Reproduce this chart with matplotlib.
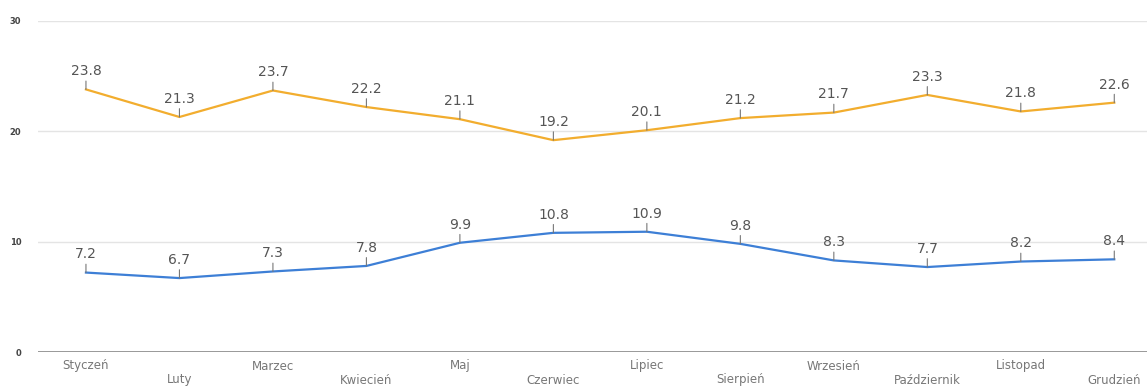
import matplotlib.pyplot as plt

months = ["Styczeń", "Luty", "Marzec", "Kwiecień", "Maj", "Czerwiec",
          "Lipiec", "Sierpień", "Wrzesień", "Październik", "Listopad", "Grudzień"]
high = [23.8, 21.3, 23.7, 22.2, 21.1, 19.2, 20.1, 21.2, 21.7, 23.3, 21.8, 22.6]
low = [7.2, 6.7, 7.3, 7.8, 9.9, 10.8, 10.9, 9.8, 8.3, 7.7, 8.2, 8.4]
y_ticks = [0, 10, 20, 30]


def main():
    fig = plt.figure(figsize=(11.47, 3.89), dpi=100)
    ax = fig.add_axes([38 / 1147, 37 / 389, 1 - 38 / 1147, 331 / 389])
    x = list(range(len(months)))

    for t in y_ticks[1:]:
        ax.axhline(t, color="#e4e4e4", lw=1, zorder=0)
    ax.axhline(0, color="#888888", lw=1.2, zorder=1)

    ax.plot(x, high, color="#f2ad2e", lw=1.6, zorder=3)
    ax.plot(x, low, color="#3d7fd6", lw=1.6, zorder=3)

    for series in (high, low):
        for i, v in zip(x, series):
            ax.annotate(f"{v:.1f}", xy=(i, v), xytext=(0, 8),
                        textcoords="offset points", ha="center", va="bottom",
                        fontsize=10, color="#555555",
                        arrowprops=dict(arrowstyle="-", color="#777777",
                                        lw=0.8, shrinkA=0, shrinkB=0))

    for i, name in enumerate(months):
        ypix = -14 if i % 2 == 0 else -28
        ax.annotate(name, xy=(i, 0), xytext=(0, ypix * 0.72),
                    textcoords="offset points", ha="center", va="center",
                    fontsize=8.5, color="#777777", annotation_clip=False)

    ax.set_xlim(-0.513, 11.35)
    ax.set_ylim(0, 30)
    ax.set_yticks(y_ticks)
    ax.set_yticklabels([str(t) for t in y_ticks], fontsize=6, color="#444444",
                       fontweight="bold")
    ax.tick_params(axis="y", length=0, pad=12)
    ax.set_xticks([])
    for s in ax.spines.values():
        s.set_visible(False)

    fig.savefig("out.png", dpi=100)
    plt.close(fig)


if __name__ == "__main__":
    main()
